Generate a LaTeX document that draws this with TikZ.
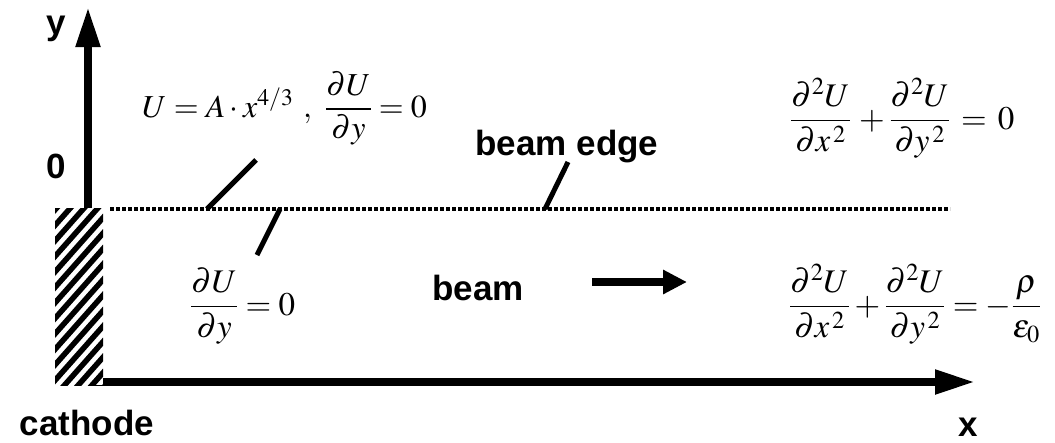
\documentclass[tikz,border=0pt]{standalone}
\usepackage{mathptmx}
\usepackage[no-math]{fontspec}
\newfontfamily\lab{Liberation Sans}
\usetikzlibrary{arrows.meta}
\tikzset{
  lbl/.style={font=\lab\bfseries\fontsize{35}{40}\selectfont, inner sep=0pt},
  eq/.style={font=\fontsize{33}{38}\selectfont, inner sep=0pt},
  axis/.style={line width=8pt, -{Triangle[length=40pt,width=23pt]}},
  leader/.style={line width=5pt},
  edgeline/.style={line width=3.5pt, dash pattern=on 3.5pt off 2.5pt},
}
\begin{document}
\begin{tikzpicture}[x=1pt,y=-1pt]
\useasboundingbox (0,0) rectangle (1055,442);
% labels
\node[lbl,anchor=base] (ylab) at (56,34) {y};
\node[lbl,anchor=base] (zero) at (56,178) {0};
\node[lbl,anchor=base] (cath) at (87,435) {cathode};
\node[lbl,anchor=base] (xlab) at (968,436) {x};
\node[lbl,anchor=base] (edge) at (567,155) {beam edge};
\node[lbl,anchor=base] (beam) at (478,300) {beam};
% axes
\coordinate (O) at (88,382);
\coordinate (ytip) at (88,7);
\coordinate (xtip) at (975,382);
\draw[axis] (O) -- (ytip);
\draw[axis] (O) -- (xtip);
% cathode
\begin{scope}
  \clip (55,208) rectangle (103,385);
  \fill[white] (55,208) rectangle (103,385);
  \foreach \k in {0,...,16} \draw[line width=5.5pt] (50,200+15.5*\k) -- +(55,-62);
\end{scope}
% beam edge
\coordinate (dl) at (110,209);
\coordinate (dr) at (950,209);
\draw[edgeline] (dl) -- (dr);
% beam arrow
\coordinate (ba) at (592,282);
\coordinate (bb) at (687,282);
\draw[line width=7.5pt,-{Triangle[length=24pt,width=23pt]}] (ba) -- (bb);
% equations
\node[eq,font=\fontsize{32}{36}\selectfont,anchor=base west] (bc1) at (142,117) {$U = A\cdot x^{4/3}\ ,\ \displaystyle\frac{\partial U}{\partial y}=0$};
\node[eq,anchor=base west] (bc2) at (190,315) {$\displaystyle\frac{\partial U}{\partial y}=0$};
\node[eq,anchor=base west] (lap) at (790,129) {$\displaystyle\frac{\partial^2 U}{\partial x^{\,2}}\,+\frac{\partial^2 U}{\partial y^{\,2}}\,=\,0$};
\node[eq,anchor=base west] (poi) at (789,315) {$\displaystyle\frac{\partial^2 U}{\partial x^{\,2}}+\frac{\partial^2 U}{\partial y^{\,2}}=-\frac{\rho}{\varepsilon_0}$};
% leaders
\coordinate (p1) at (207,209); \coordinate (q1) at (256,160);
\coordinate (p2) at (280,209); \coordinate (q2) at (257,255);
\coordinate (p3) at (545,209); \coordinate (q3) at (568,162);
\draw[leader] (p1) -- (q1);
\draw[leader] (p2) -- (q2);
\draw[leader] (p3) -- (q3);
\end{tikzpicture}
\end{document}
